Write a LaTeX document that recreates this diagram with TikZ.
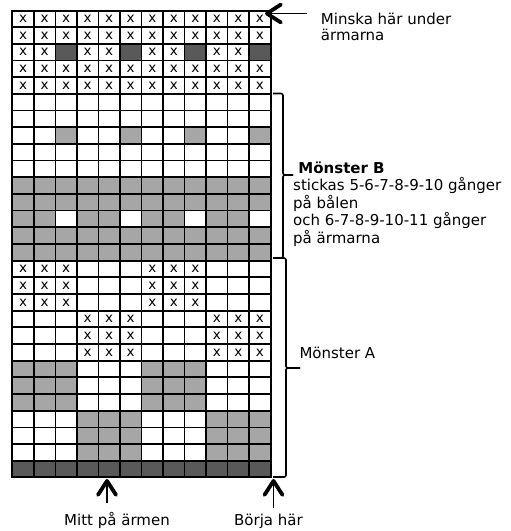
\documentclass[tikz,border=0pt]{standalone}
\usepackage{fontspec}
\setmainfont{DejaVu Sans}
\usetikzlibrary{arrows.meta}
\definecolor{darkcell}{RGB}{89,89,89}
\definecolor{graycell}{RGB}{166,166,166}
\tikzstyle{cell} = [draw, line width=1.7pt, minimum width=21.53pt,
minimum height=16.67pt, inner sep=0pt, outer sep=0pt,
font=\fontsize{13.5}{13.5}\selectfont]
\tikzstyle{cell0} = [fill=white]
\tikzstyle{cellx} = [fill=white]
\tikzstyle{cell1} = [fill=graycell]
\tikzstyle{cell2} = [fill=darkcell]
\tikzstyle{pointer} = [draw, line width=1.4pt,
-{Straight Barb[length=14pt, width=18pt, line width=3.8pt, round]}]
\tikzstyle{bracket} = [draw, line width=1.6pt, rounded corners=2pt]

\begin{document}
\begin{tikzpicture}[x=1pt, y=-1pt,
	note/.style={inner sep=0pt, font=\fontsize{15}{17}\selectfont}]
    \useasboundingbox (0,0) rectangle (511,531);
	%% Chart
    \foreach \cells [count=\row] in {
      {x,x,x,x,x,x,x,x,x,x,x,x}, {x,x,x,x,x,x,x,x,x,x,x,x},
      {x,x,2,x,x,2,x,x,2,x,x,2}, {x,x,x,x,x,x,x,x,x,x,x,x},
      {x,x,x,x,x,x,x,x,x,x,x,x}, {0,0,0,0,0,0,0,0,0,0,0,0},
      {0,0,0,0,0,0,0,0,0,0,0,0}, {0,0,1,0,0,1,0,0,1,0,0,1},
      {0,0,0,0,0,0,0,0,0,0,0,0}, {0,0,0,0,0,0,0,0,0,0,0,0},
      {1,1,1,1,1,1,1,1,1,1,1,1}, {1,1,1,1,1,1,1,1,1,1,1,1},
      {1,1,0,1,1,0,1,1,0,1,1,0}, {1,1,1,1,1,1,1,1,1,1,1,1},
      {1,1,1,1,1,1,1,1,1,1,1,1}, {x,x,x,0,0,0,x,x,x,0,0,0},
      {x,x,x,0,0,0,x,x,x,0,0,0}, {x,x,x,0,0,0,x,x,x,0,0,0},
      {0,0,0,x,x,x,0,0,0,x,x,x}, {0,0,0,x,x,x,0,0,0,x,x,x},
      {0,0,0,x,x,x,0,0,0,x,x,x}, {1,1,1,0,0,0,1,1,1,0,0,0},
      {1,1,1,0,0,0,1,1,1,0,0,0}, {1,1,1,0,0,0,1,1,1,0,0,0},
      {0,0,0,1,1,1,0,0,0,1,1,1}, {0,0,0,1,1,1,0,0,0,1,1,1},
      {0,0,0,1,1,1,0,0,0,1,1,1}, {2,2,2,2,2,2,2,2,2,2,2,2}}
    {
      \foreach \kind [count=\col] in \cells
        \node [cell, cell\kind] (c-\row-\col)
          at ({12.3+(\col-0.5)*21.53}, {10.6+(\row-0.5)*16.67}) {\if x\kind x\fi};
    }
    \draw [line width=2.2pt] (c-1-1.north west) rectangle (c-28-12.south east);
	%% Brackets
    \path [bracket] (273,93.5) -- (283,93.5) -- (283,175) -- (293,175);
    \path [bracket] (293,175) -- (283,175) -- (283,258) -- (273,258);
    \path [bracket] (273,258) -- (286,258) -- (286,368) -- (300,368);
    \path [bracket] (300,368) -- (286,368) -- (286,477) -- (273,477);
	%% Texts
    \node [note, anchor=base west] (minska1) at (320.7,24.3) {Minska här under};
    \node [note, anchor=base west] (minska2) at (320.7,40) {ärmarna};
    \node [note, anchor=base west] (monsterB1) at (293,173) {\textbf{\ Mönster B}};
    \node [note, anchor=base west] (monsterB2) at (293,190.5) {stickas 5-6-7-8-9-10 gånger};
    \node [note, anchor=base west] (monsterB3) at (293,208) {på bålen};
    \node [note, anchor=base west] (monsterB4) at (293,225.5) {och 6-7-8-9-10-11 gånger};
    \node [note, anchor=base west] (monsterB5) at (293,243) {på ärmarna};
    \node [note, anchor=base west] (monsterA) at (299.3,358) {Mönster A};
    \node [note, anchor=base] (mitt) at (117,525.5) {Mitt på ärmen};
    \node [note, anchor=base] (borja) at (268.5,525.5) {Börja här};
	%% Arrows
    \coordinate (minskaTail) at (307,13.5);
    \coordinate (minskaTip) at (265,13.5);
    \coordinate (mittTail) at (107,503);
    \coordinate (mittTip) at (107,479);
    \coordinate (borjaTail) at (273.5,508);
    \coordinate (borjaTip) at (273.5,479);
    \path [pointer] (minskaTail) -- (minskaTip);
    \path [pointer] (mittTail) -- (mittTip);
    \path [pointer] (borjaTail) -- (borjaTip);
\end{tikzpicture}
\end{document}
